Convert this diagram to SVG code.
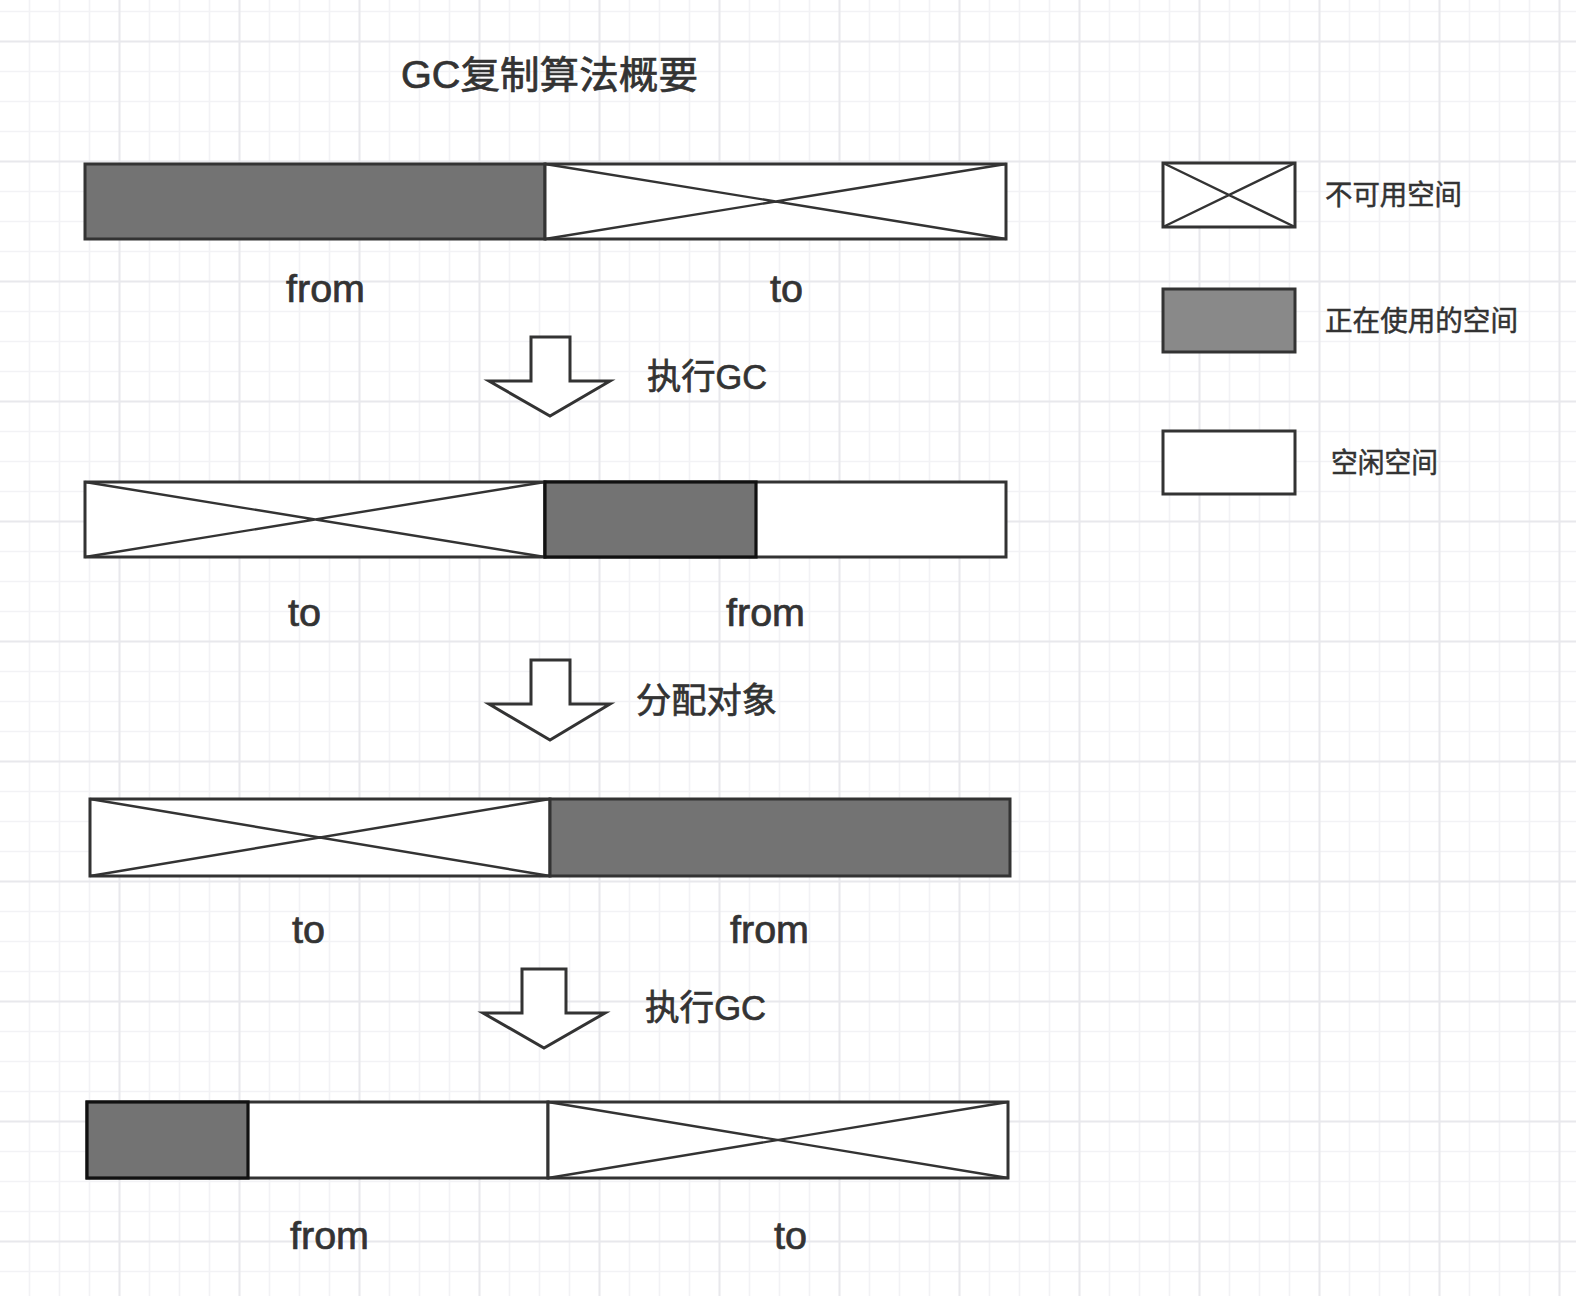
<svg xmlns="http://www.w3.org/2000/svg" width="1576" height="1296" viewBox="0 0 1576 1296">
<style>
.gmin{stroke:#f2f2f5;stroke-width:1.6;fill:none}
.gmaj{stroke:#e8e8ec;stroke-width:2;fill:none}
.used{fill:#737373;stroke:#333;stroke-width:3}
.usedk{fill:#737373;stroke:#111;stroke-width:3.2}
.free{fill:#fff;stroke:#333;stroke-width:3}
.x{stroke:#333;stroke-width:2.4;fill:none}
.arr{fill:#fff;stroke:#333;stroke-width:3;stroke-linejoin:miter}
text{font-family:"Liberation Sans","Noto Sans CJK SC",sans-serif;fill:#333;stroke:#333;stroke-width:0.7}
.lbl{font-size:38px}
.cap{font-size:35px}
.leg{font-size:28px;stroke-width:0.5}
.ttl{font-size:38px}
</style>
<rect width="1576" height="1296" fill="#fff"/>
<g id="grid">
<path class="gmin" d="M29.5 0V1296M59.5 0V1296M89.5 0V1296M149.5 0V1296M179.5 0V1296M209.5 0V1296M269.5 0V1296M299.5 0V1296M329.5 0V1296M389.5 0V1296M419.5 0V1296M449.5 0V1296M509.5 0V1296M539.5 0V1296M569.5 0V1296M629.5 0V1296M659.5 0V1296M689.5 0V1296M749.5 0V1296M779.5 0V1296M809.5 0V1296M869.5 0V1296M899.5 0V1296M929.5 0V1296M989.5 0V1296M1019.5 0V1296M1049.5 0V1296M1109.5 0V1296M1139.5 0V1296M1169.5 0V1296M1229.5 0V1296M1259.5 0V1296M1289.5 0V1296M1349.5 0V1296M1379.5 0V1296M1409.5 0V1296M1469.5 0V1296M1499.5 0V1296M1529.5 0V1296M0 11.5H1576M0 71.5H1576M0 101.5H1576M0 131.5H1576M0 191.5H1576M0 221.5H1576M0 251.5H1576M0 311.5H1576M0 341.5H1576M0 371.5H1576M0 431.5H1576M0 461.5H1576M0 491.5H1576M0 551.5H1576M0 581.5H1576M0 611.5H1576M0 671.5H1576M0 701.5H1576M0 731.5H1576M0 791.5H1576M0 821.5H1576M0 851.5H1576M0 911.5H1576M0 941.5H1576M0 971.5H1576M0 1031.5H1576M0 1061.5H1576M0 1091.5H1576M0 1151.5H1576M0 1181.5H1576M0 1211.5H1576M0 1271.5H1576"/>
<path class="gmaj" d="M119.5 0V1296M239.5 0V1296M359.5 0V1296M479.5 0V1296M599.5 0V1296M719.5 0V1296M839.5 0V1296M959.5 0V1296M1079.5 0V1296M1199.5 0V1296M1319.5 0V1296M1439.5 0V1296M1559.5 0V1296M0 41.5H1576M0 161.5H1576M0 281.5H1576M0 401.5H1576M0 521.5H1576M0 641.5H1576M0 761.5H1576M0 881.5H1576M0 1001.5H1576M0 1121.5H1576M0 1241.5H1576"/>
</g>
<g id="title"><text class="ttl" x="401" y="87.5" textLength="297" lengthAdjust="spacingAndGlyphs">GC复制算法概要</text></g>
<g id="row1">
<rect class="used" x="85" y="164" width="460" height="75"/>
<rect class="free" x="545" y="164" width="461" height="75"/>
<path class="x" d="M545 164L1006 239M545 239L1006 164"/>
<text class="lbl" x="286" y="302" textLength="79" lengthAdjust="spacingAndGlyphs">from</text>
<text class="lbl" x="770" y="302" textLength="33" lengthAdjust="spacingAndGlyphs">to</text>
</g>
<g id="row2">
<rect class="free" x="85" y="482" width="460" height="75"/>
<path class="x" d="M85 482L545 557M85 557L545 482"/>
<rect class="free" x="545" y="482" width="461" height="75"/>
<rect class="usedk" x="545" y="482" width="211" height="75"/>
<text class="lbl" x="288" y="625.5" textLength="33" lengthAdjust="spacingAndGlyphs">to</text>
<text class="lbl" x="726" y="625.5" textLength="79" lengthAdjust="spacingAndGlyphs">from</text>
</g>
<g id="row3">
<rect class="free" x="90" y="799" width="460" height="77"/>
<path class="x" d="M90 799L550 876M90 876L550 799"/>
<rect class="used" x="550" y="799" width="460" height="77"/>
<text class="lbl" x="292" y="943" textLength="33" lengthAdjust="spacingAndGlyphs">to</text>
<text class="lbl" x="730" y="943" textLength="79" lengthAdjust="spacingAndGlyphs">from</text>
</g>
<g id="row4">
<rect class="free" x="87" y="1102" width="461" height="76"/>
<rect class="usedk" x="87" y="1102" width="161" height="76"/>
<rect class="free" x="548" y="1102" width="460" height="76"/>
<path class="x" d="M548 1102L1008 1178M548 1178L1008 1102"/>
<text class="lbl" x="290" y="1248.5" textLength="79" lengthAdjust="spacingAndGlyphs">from</text>
<text class="lbl" x="774" y="1248.5" textLength="33" lengthAdjust="spacingAndGlyphs">to</text>
</g>
<g id="connectors">
<polygon class="arr" points="531,337 570,337 570,381 610,381 550,416 489,381 531,381"/>
<polygon class="arr" points="531,660 570,660 570,704 610,704 550,740 489,704 531,704"/>
<polygon class="arr" points="522,969 566,969 566,1013 605,1013 544,1048 483,1013 522,1013"/>
<text class="cap" x="647" y="389" textLength="120" lengthAdjust="spacingAndGlyphs">执行GC</text>
<text class="cap" x="636" y="713" textLength="141" lengthAdjust="spacingAndGlyphs">分配对象</text>
<text class="cap" x="645" y="1020" textLength="121" lengthAdjust="spacingAndGlyphs">执行GC</text>
</g>
<g id="legend-unavailable">
<rect class="free" x="1163" y="163" width="132" height="64"/>
<path class="x" d="M1163 163L1295 227M1163 227L1295 163"/>
<text class="leg" x="1325" y="204.5" textLength="137" lengthAdjust="spacingAndGlyphs">不可用空间</text>
</g>
<g id="legend-used">
<rect class="used" x="1163" y="289" width="132" height="63" style="fill:#898989"/>
<text class="leg" x="1325" y="331" textLength="193" lengthAdjust="spacingAndGlyphs">正在使用的空间</text>
</g>
<g id="legend-free">
<rect class="free" x="1163" y="431" width="132" height="63"/>
<text class="leg" x="1331" y="472.5" textLength="107" lengthAdjust="spacingAndGlyphs">空闲空间</text>
</g>
</svg>
